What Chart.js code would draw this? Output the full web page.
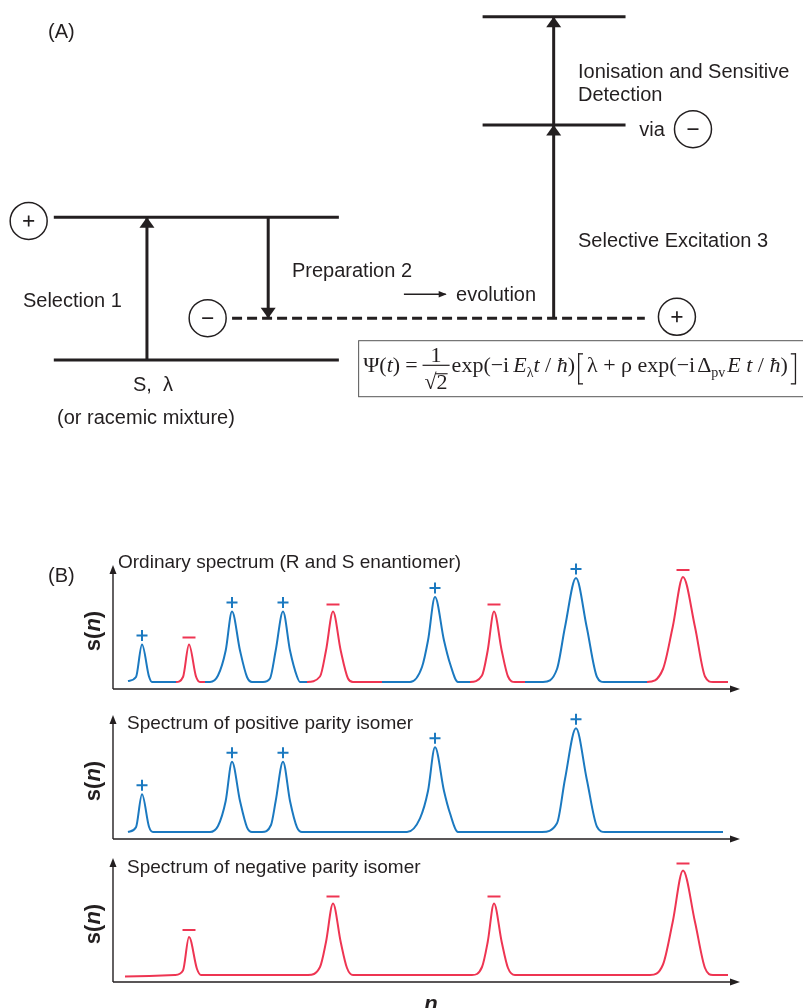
<!DOCTYPE html>
<html>
<head>
<meta charset="utf-8">
<script src="https://cdn.jsdelivr.net/npm/chart.js@4.4.1/dist/chart.umd.min.js"></script>
<style>
html,body{margin:0;padding:0;background:#fff;}
#page{position:relative;width:803px;height:1008px;overflow:hidden;background:#fff;}
#page canvas{position:absolute;left:0;}
</style>
</head>
<body>
<div id="page">
<canvas id="diagram" width="803" height="450" style="top:0px"></canvas>
<canvas id="spec1" width="803" height="150" style="top:545px"></canvas>
<canvas id="spec2" width="803" height="150" style="top:695px"></canvas>
<canvas id="spec3" width="803" height="170" style="top:838px"></canvas>
</div>
<script>
// ================= Panel (A): energy level scheme =================
// horizontal position in arbitrary units (0-100), energy E in arbitrary units (0-100)
const levelE      = [20, 51.7, 29.3, 72.2, 96.3];
const levelFrom   = [6.7, 6.7, 28.9, 60.1, 60.1];
const levelTo     = [42.2, 42.2, 80.3, 77.9, 77.9];
const levelDashed = [false, false, true, false, false];

const transX    = [18.3, 33.4, 68.95, 68.95];
const transFrom = [20, 51.7, 29.3, 72.2];
const transTo   = [51.7, 29.3, 72.2, 96.3];

const evolutionX = [50.3, 55.5];
const evolutionE = [34.6, 34.6];

const parityX    = [3.57, 25.86, 84.3, 86.3];
const parityE    = [50.9, 29.3, 29.6, 71.3];
const paritySign = ['+', '−', '+', '−'];

const labelText  = ['(A)', 'Selection 1', 'Preparation 2', 'evolution', 'Ionisation and Sensitive', 'Detection', 'via', 'Selective Excitation 3', 'S,  λ', '(or racemic mixture)'];
const labelX     = [5.98, 2.86, 36.36, 56.79, 71.98, 71.98, 79.6, 71.98, 19.05, 18.18];
const labelE     = [92.7, 32.9, 39.6, 34.4, 84.0, 78.7, 71.1, 46.4, 14.4, 7.1];
const labelAlign = ['left','left','left','left','left','left','left','left','center','center'];

// ================= Panel (B): spectra s(n) =================
const n1 = [15, 23, 29, 36, 39, 63, 70, 76, 83, 87, 92, 97, 105, 112.7, 119, 127, 134, 139, 150, 157, 162.7, 170, 177, 184, 187, 194, 207, 213, 220, 227.7, 235, 240, 269, 297, 309, 315, 322, 331, 337, 345, 357, 369, 374.7, 381, 388.7, 395, 402, 412, 430, 444, 452, 463, 473.7, 484, 491, 534, 550, 559.7, 570, 582, 592, 600, 615];
const s1 = [8, 12, 44.5, 12.5, 7, 7, 12, 44.5, 12.5, 7, 7, 7, 13.5, 38.5, 77.5, 38.5, 12, 7, 7, 10.5, 38.5, 77.5, 38.5, 12.5, 7, 7, 12.5, 38.5, 77.5, 38.5, 10.5, 7, 7, 7, 22, 48.5, 92, 48.5, 25.5, 7, 7, 13.5, 38.5, 77.5, 38.5, 12.5, 7, 7, 7, 20, 62, 111, 62, 12, 7, 7, 20, 62, 112, 62, 12.5, 7, 7];
const sec1Start  = [15, 63, 92, 194, 269, 357, 412, 534];
const sec1Parity = ['+', '−', '+', '−', '+', '−', '+', '−'];

const n2 = [15, 23, 29, 36, 40, 97, 105, 112.7, 119, 127, 134, 139, 149, 158, 162.7, 170, 177, 184, 189, 294, 307, 315, 322, 331, 337, 345, 429, 444, 452, 463, 473.7, 484, 492, 610];
const s2 = [7, 11.7, 44.7, 12.3, 7, 7, 13, 38, 77.3, 38, 11.7, 7, 7, 14, 38, 77.3, 38, 11.7, 7, 7, 20.7, 48, 91.7, 48, 25.7, 7, 7, 15.7, 60, 110.7, 60, 12.3, 7, 7];
const sec2Start  = [15];
const sec2Parity = ['+'];

const n3 = [12, 62, 70, 76, 84, 88, 195, 207, 213, 220, 227.7, 234, 240, 359, 369, 374.7, 381, 388.7, 395, 402, 537, 550, 559.7, 570, 582, 592, 600, 615];
const s3 = [5.5, 7, 11.5, 45, 13, 7, 7, 15, 40, 78.5, 40, 14, 7, 7, 15, 40, 78.5, 40, 14, 7, 7, 17.5, 60, 111.5, 60, 14, 7, 7];
const sec3Start  = [12];
const sec3Parity = ['−'];

const specTitles = ['Ordinary spectrum (R and S enantiomer)', 'Spectrum of positive parity isomer', 'Spectrum of negative parity isomer'];

// ================= styles =================
const INK = '#231f20';
const PARITY_COLOR = {'+': '#1b79c0', '−': '#ee3552'};
const SANS = '"Liberation Sans", Arial, Helvetica, sans-serif';
const SERIF = '"Liberation Serif", "Times New Roman", serif';

// ================= Panel (A) chart =================
function headV(ctx, x, tip, up, w, l) {
  ctx.beginPath();
  ctx.moveTo(x, tip);
  ctx.lineTo(x - w / 2, tip + (up ? l : -l));
  ctx.lineTo(x + w / 2, tip + (up ? l : -l));
  ctx.closePath();
  ctx.fill();
}

function drawFormula(ctx, x0, top) {
  const b = top + 32; // baseline
  const R = '22px ' + SERIF, I = 'italic 22px ' + SERIF, SUB = '14px ' + SERIF;
  let x = x0;
  ctx.textBaseline = 'alphabetic';
  ctx.textAlign = 'left';
  const put = (t, f, dy) => { ctx.font = f; ctx.fillText(t, x, b + (dy || 0)); x += ctx.measureText(t).width; };
  put('Ψ(', R); put('t', I); put(')', R); x += 5; put('=', R); x += 5;
  ctx.font = R;
  const wden = ctx.measureText('√2').width;
  const wnum = ctx.measureText('1').width;
  const fw = wden + 4;
  ctx.fillText('1', x + (fw - wnum) / 2, b - 10);
  ctx.fillRect(x, b - 7.5, fw, 1.2);
  ctx.fillText('√2', x + 2, b + 17);
  const wr = ctx.measureText('√').width;
  ctx.fillRect(x + 2 + wr - 1, b + 17 - 16, wden - wr + 1, 1.1);
  x += fw + 2;
  put('exp(−i', R); x += 4; put('E', I); put('λ', SUB, 5); put('t', I); put(' / ', R); put('ħ', I); put(')', R);
  x += 3;
  ctx.fillRect(x, b - 19, 1.3, 31); ctx.fillRect(x, b - 19, 5, 1.3); ctx.fillRect(x, b + 11, 5, 1.3);
  x += 9;
  put('λ + ρ exp(−i', R); x += 2; put('Δ', R); put('pv', SUB, 5); x += 2; put('E t', I); put(' / ', R); put('ħ', I); put(')', R);
  x += 3;
  ctx.fillRect(x + 4, b - 19, 1.3, 31); ctx.fillRect(x, b - 19, 5, 1.3); ctx.fillRect(x, b + 11, 5, 1.3);
}

const diagramPlugin = {
  id: 'diagramDecor',
  afterDatasetsDraw(chart) {
    const {ctx, scales: {x, y}} = chart;
    ctx.save();
    ctx.fillStyle = INK; ctx.strokeStyle = INK;
    transX.forEach((tx, i) => {
      headV(ctx, x.getPixelForValue(tx), y.getPixelForValue(transTo[i]), transTo[i] > transFrom[i], 15, 10.5);
    });
    const ex = x.getPixelForValue(evolutionX[1]), ey = y.getPixelForValue(evolutionE[1]);
    ctx.beginPath(); ctx.moveTo(ex + 1, ey); ctx.lineTo(ex - 7, ey - 3.2); ctx.lineTo(ex - 7, ey + 3.2); ctx.closePath(); ctx.fill();
    ctx.lineWidth = 1.7;
    parityX.forEach((px, i) => {
      const cx = x.getPixelForValue(px), cy = y.getPixelForValue(parityE[i]);
      ctx.beginPath();
      ctx.moveTo(cx - 5.5, cy); ctx.lineTo(cx + 5.5, cy);
      if (paritySign[i] === '+') { ctx.moveTo(cx, cy - 5.5); ctx.lineTo(cx, cy + 5.5); }
      ctx.stroke();
    });
    ctx.font = '20px ' + SANS;
    ctx.textBaseline = 'middle';
    labelText.forEach((t, i) => {
      ctx.textAlign = labelAlign[i];
      ctx.fillText(t, x.getPixelForValue(labelX[i]), y.getPixelForValue(labelE[i]));
    });
    const bx = x.getPixelForValue(44.6), by = y.getPixelForValue(24.4);
    ctx.strokeStyle = '#555'; ctx.lineWidth = 1;
    ctx.strokeRect(bx + 0.5, by + 0.5, 500, 56);
    ctx.fillStyle = INK;
    drawFormula(ctx, bx + 5, by);
    ctx.restore();
  }
};

const diagramDatasets = [];
diagramDatasets.push({
  type: 'scatter', order: 0,
  data: parityX.map((v, i) => ({x: v, y: parityE[i]})),
  pointRadius: 18.5, pointBackgroundColor: '#fff', pointBorderColor: INK, pointBorderWidth: 1.5, showLine: false
});
levelE.forEach((e, i) => diagramDatasets.push({
  order: 1, showLine: true, pointRadius: 0, borderColor: INK, borderWidth: 3,
  borderDash: levelDashed[i] ? [10, 5] : [], borderCapStyle: 'butt',
  data: [{x: levelFrom[i], y: e}, {x: levelTo[i], y: e}]
}));
transX.forEach((tx, i) => diagramDatasets.push({
  order: 1, showLine: true, pointRadius: 0, borderColor: INK, borderWidth: 3,
  data: [{x: tx, y: transFrom[i]}, {x: tx, y: transTo[i]}]
}));
diagramDatasets.push({
  order: 1, showLine: true, pointRadius: 0, borderColor: INK, borderWidth: 1.4,
  data: evolutionX.map((v, i) => ({x: v, y: evolutionE[i]}))
});

new Chart(document.getElementById('diagram'), {
  type: 'scatter',
  data: {datasets: diagramDatasets},
  options: {
    responsive: false, animation: false, devicePixelRatio: 1,
    layout: {padding: 0, autoPadding: false},
    elements: {line: {tension: 0}},
    datasets: {scatter: {clip: false}},
    scales: {x: {type: 'linear', min: 0, max: 100, display: false}, y: {type: 'linear', min: 0, max: 100, display: false}},
    plugins: {legend: {display: false}, tooltip: {enabled: false}}
  },
  plugins: [diagramPlugin]
});

// ================= Panel (B) charts =================
function makeSpectrum(id, n, s, secStart, secParity, title, extra) {
  const parityAt = v => { let p = secParity[0]; secStart.forEach((st, k) => { if (v >= st) p = secParity[k]; }); return p; };
  const plugin = {
    id: 'specDecor',
    beforeDatasetsDraw(chart) {
      const {ctx, chartArea: a} = chart;
      ctx.save();
      ctx.strokeStyle = INK; ctx.fillStyle = INK; ctx.lineWidth = 1.4;
      ctx.beginPath();
      ctx.moveTo(a.left, a.bottom); ctx.lineTo(a.left, a.top + 6);
      ctx.moveTo(a.left, a.bottom); ctx.lineTo(a.right - 6, a.bottom);
      ctx.stroke();
      ctx.beginPath(); ctx.moveTo(a.left, a.top); ctx.lineTo(a.left - 3.5, a.top + 9); ctx.lineTo(a.left + 3.5, a.top + 9); ctx.closePath(); ctx.fill();
      ctx.beginPath(); ctx.moveTo(a.right, a.bottom); ctx.lineTo(a.right - 10, a.bottom - 3.5); ctx.lineTo(a.right - 10, a.bottom + 3.5); ctx.closePath(); ctx.fill();
      ctx.restore();
    },
    afterDatasetsDraw(chart) {
      const {ctx, chartArea: a, scales: {x, y}} = chart;
      ctx.save();
      for (let i = 1; i < n.length - 1; i++) {
        if (s[i] > s[i - 1] && s[i] > s[i + 1] && s[i] > 25) {
          const p = parityAt(n[i]);
          const px = x.getPixelForValue(n[i]), py = y.getPixelForValue(s[i]);
          ctx.strokeStyle = PARITY_COLOR[p]; ctx.lineWidth = 2;
          ctx.beginPath();
          if (p === '+') {
            ctx.moveTo(px - 5.5, py - 9); ctx.lineTo(px + 5.5, py - 9);
            ctx.moveTo(px, py - 14.5); ctx.lineTo(px, py - 3.5);
          } else {
            ctx.moveTo(px - 6.5, py - 7); ctx.lineTo(px + 6.5, py - 7);
          }
          ctx.stroke();
        }
      }
      ctx.fillStyle = INK;
      ctx.font = '19px ' + SANS;
      ctx.textBaseline = 'middle'; ctx.textAlign = 'left';
      ctx.fillText(title, a.left + extra.titleDx, a.top + extra.titleDy);
      ctx.save();
      ctx.translate(94, (a.top + a.bottom) / 2 + 4);
      ctx.rotate(-Math.PI / 2);
      const fB = 'bold 22px ' + SANS, fBI = 'bold italic 22px ' + SANS;
      ctx.font = fB; const w1 = ctx.measureText('s(').width, w3 = ctx.measureText(')').width;
      ctx.font = fBI; const w2 = ctx.measureText('n').width;
      let xx = -(w1 + w2 + w3) / 2;
      ctx.textAlign = 'left';
      ctx.font = fB; ctx.fillText('s(', xx, 0); xx += w1;
      ctx.font = fBI; ctx.fillText('n', xx, 0); xx += w2;
      ctx.font = fB; ctx.fillText(')', xx, 0);
      ctx.restore();
      if (extra.panelLabel) {
        ctx.font = '20px ' + SANS; ctx.textAlign = 'left'; ctx.textBaseline = 'middle';
        ctx.fillText(extra.panelLabel, 48, a.top + 11);
      }
      if (extra.xLabel) {
        ctx.font = 'bold italic 22px ' + SANS; ctx.textAlign = 'center'; ctx.textBaseline = 'alphabetic';
        ctx.fillText(extra.xLabel, 431, a.bottom + 29);
      }
      ctx.restore();
    }
  };
  return new Chart(document.getElementById(id), {
    type: 'line',
    data: {datasets: [{
      data: n.map((v, i) => ({x: v, y: s[i]})),
      borderWidth: 2, pointRadius: 0, fill: false,
      cubicInterpolationMode: 'monotone',
      borderColor: PARITY_COLOR[secParity[0]],
      segment: {borderColor: c => PARITY_COLOR[parityAt(c.p0.parsed.x)]}
    }]},
    options: {
      responsive: false, animation: false, devicePixelRatio: 1,
      layout: {padding: {left: 113, right: 63, top: 20, bottom: extra.bottom}, autoPadding: false},
      scales: {x: {type: 'linear', min: 0, max: 627, display: false}, y: {type: 'linear', min: 0, max: 124, display: false}},
      plugins: {legend: {display: false}, tooltip: {enabled: false}}
    },
    plugins: [plugin]
  });
}

makeSpectrum('spec1', n1, s1, sec1Start, sec1Parity, specTitles[0], {bottom: 6, titleDx: 5, titleDy: -2, panelLabel: '(B)'});
makeSpectrum('spec2', n2, s2, sec2Start, sec2Parity, specTitles[1], {bottom: 6, titleDx: 14, titleDy: 9});
makeSpectrum('spec3', n3, s3, sec3Start, sec3Parity, specTitles[2], {bottom: 26, titleDx: 14, titleDy: 10, xLabel: 'n'});
</script>
</body>
</html>
